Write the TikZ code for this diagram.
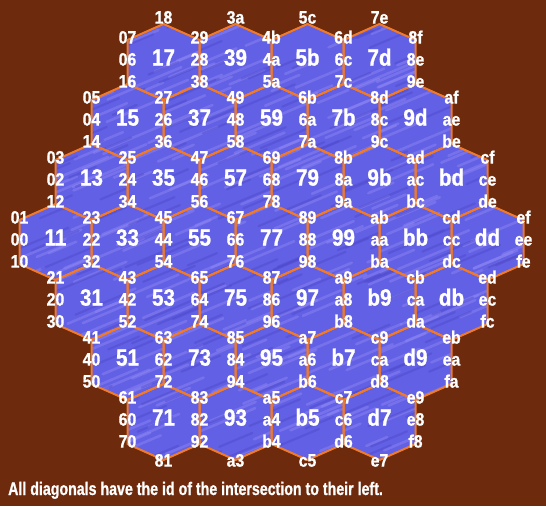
\documentclass[tikz,border=0pt]{standalone}
\usepackage{fontspec}
\setmainfont{Liberation Sans}
\newfontfamily\lblfont[FakeStretch=0.88,FakeBold=0.9]{Liberation Sans}
\newfontfamily\notefont[FakeStretch=0.78,FakeBold=0.9]{Liberation Sans}
\definecolor{bgbrown}{RGB}{110,42,12}
\definecolor{hexfill}{RGB}{98,96,228}
\definecolor{hexlight}{RGB}{146,138,246}
\definecolor{hexdark}{RGB}{76,70,200}
\definecolor{edgeorange}{RGB}{240,122,40}
\newcommand\hexdigit[1]{\ifcase\numexpr#1\relax 0\or 1\or 2\or 3\or 4\or 5\or 6\or 7\or 8\or 9\or a\or b\or c\or d\or e\or f\fi}
% the picture prints "ca" on the edge that would be c8
\newcommand\edgetext[2]{\ifnum#1=12 \ifnum#2=8 ca\else\hexdigit{#1}\hexdigit{#2}\fi\else\hexdigit{#1}\hexdigit{#2}\fi}
\begin{document}
\begin{tikzpicture}[x=1pt,y=-1pt,
  declare function={
    hx(\a,\b)=((\a)>=1)*((\a)<=13)*((\b)>=1)*((\b)<=13)*(abs((\a)-(\b))<=6);
    cx(\a,\b)=271.5+18*((\a)+(\b)-14);
    cy(\a,\b)=242+30*((\a)-(\b));},
  hexedge/.style={draw=edgeorange, line width=2pt, line join=round},
  bigid/.style={text=white, inner sep=0pt, font=\lblfont\bfseries\fontsize{23.5}{24}\selectfont, text height=0.72em, text depth=0pt},
  smallid/.style={text=white, inner sep=0pt, font=\lblfont\bfseries\fontsize{18}{19}\selectfont, text height=0.72em, text depth=0pt},
  notetext/.style={text=white, inner sep=0pt, anchor=base west, font=\notefont\bfseries\fontsize{18.2}{20}\selectfont},
]
\fill[bgbrown] (0,0) rectangle (546,506);
\useasboundingbox (0,0) rectangle (546,506);
\pgfmathsetseed{7}
% hex cells with texture
\foreach \a in {1,3,...,13}{\foreach \b in {1,3,...,13}{
  \pgfmathtruncatemacro\hok{hx(\a,\b)}
  \ifnum\hok=1
    \pgfmathsetmacro\hxX{cx(\a,\b)}
    \pgfmathsetmacro\hxY{cy(\a,\b)}
    \begin{scope}
      \clip (\hxX,\hxY-38) -- (\hxX+36,\hxY-22) -- (\hxX+36,\hxY+22) -- (\hxX,\hxY+38) -- (\hxX-36,\hxY+22) -- (\hxX-36,\hxY-22) -- cycle;
      \fill[hexfill] (\hxX-40,\hxY-40) rectangle (\hxX+40,\hxY+40);
      \foreach \i in {1,...,10}{
        \pgfmathsetmacro\stx{\hxX+rand*42}
        \pgfmathsetmacro\sty{\hxY+rand*42}
        \pgfmathsetmacro\stl{10+rnd*22}
        \draw[hexlight, opacity=0.45, line width=2.6pt, line cap=round] (\stx-\stl,\sty+0.42*\stl) -- (\stx+\stl,\sty-0.42*\stl);
      }
      \foreach \i in {1,...,6}{
        \pgfmathsetmacro\stx{\hxX+rand*42}
        \pgfmathsetmacro\sty{\hxY+rand*42}
        \pgfmathsetmacro\stl{10+rnd*20}
        \draw[hexdark, opacity=0.4, line width=2.2pt, line cap=round] (\stx-\stl,\sty+0.42*\stl) -- (\stx+\stl,\sty-0.42*\stl);
      }
    \end{scope}
  \fi
}}
% hex outlines
\foreach \a in {1,3,...,13}{\foreach \b in {1,3,...,13}{
  \pgfmathtruncatemacro\hok{hx(\a,\b)}
  \ifnum\hok=1
    \pgfmathsetmacro\hxX{cx(\a,\b)}
    \pgfmathsetmacro\hxY{cy(\a,\b)}
    \draw[hexedge] (\hxX,\hxY-38) -- (\hxX+36,\hxY-22) -- (\hxX+36,\hxY+22) -- (\hxX,\hxY+38) -- (\hxX-36,\hxY+22) -- (\hxX-36,\hxY-22) -- cycle;
  \fi
}}
% labels
\foreach \p in {0,...,15}{\foreach \q in {0,...,15}{
  \pgfmathtruncatemacro\pe{mod(\p,2)}
  \pgfmathtruncatemacro\qe{mod(\q,2)}
  \ifnum\pe=1
    \ifnum\qe=1
      \pgfmathtruncatemacro\lok{hx(\p,\q)}
      \ifnum\lok>0
        \node[bigid] (h\p-\q) at ({cx(\p,\q)},{cy(\p,\q)}) {\hexdigit{\p}\hexdigit{\q}};
      \fi
    \else
      \pgfmathtruncatemacro\lok{hx(\p,\q-1)+hx(\p,\q+1)+hx(\p-2,\q-1)}
      \ifnum\lok>0
        \pgfmathtruncatemacro\oth{hx(\p,\q+1)+hx(\p-2,\q-1)}
        \pgfmathsetmacro\lsh{\oth>0 ? 0 : -4}
        \node[smallid] (v\p-\q) at ({cx(\p,\q-1)},{cy(\p,\q-1)-38+\lsh}) {\hexdigit{\p}\hexdigit{\q}};
      \fi
    \fi
  \else
    \ifnum\qe=1
      \pgfmathtruncatemacro\lok{hx(\p+1,\q)+hx(\p-1,\q)+hx(\p-1,\q-2)}
      \ifnum\lok>0
        \pgfmathtruncatemacro\oth{hx(\p+1,\q)+hx(\p-1,\q-2)}
        \pgfmathsetmacro\lsh{\oth>0 ? 0 : 3}
        \node[smallid] (u\p-\q) at ({cx(\p+1,\q)-36},{cy(\p+1,\q)-22+\lsh}) {\hexdigit{\p}\hexdigit{\q}};
      \fi
    \else
      \pgfmathtruncatemacro\lok{hx(\p+1,\q+1)+hx(\p-1,\q-1)}
      \ifnum\lok>0
        \node[smallid] (e\p-\q) at ({cx(\p,\q)},{cy(\p,\q)}) {\edgetext{\p}{\q}};
      \fi
    \fi
  \fi
}}
\node[notetext] (note) at (8,495) {All diagonals have the id of the intersection to their left.};
\end{tikzpicture}
\end{document}
